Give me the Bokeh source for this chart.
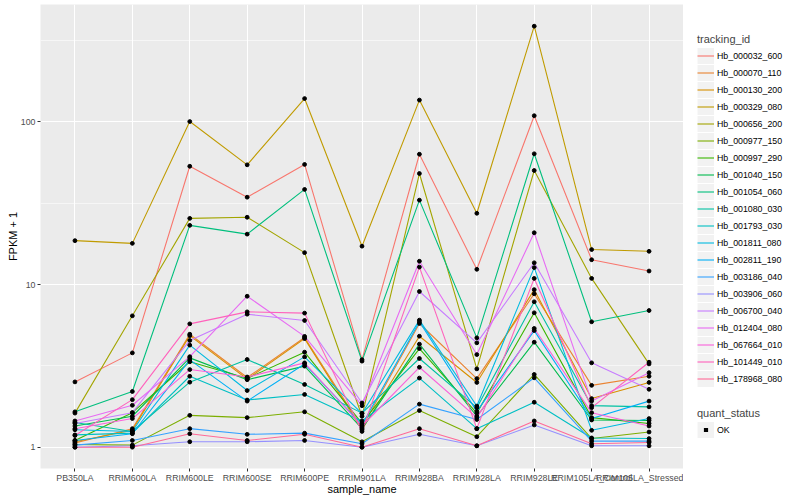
import math
from bokeh.plotting import figure
from bokeh.layouts import row
from bokeh.models import (FactorRange, Range1d, FixedTicker, PrintfTickFormatter,
                          Legend, LegendItem, ColumnDataSource)
from bokeh.embed import file_html
from bokeh.resources import INLINE

samples = ["PB350LA", "RRIM600LA", "RRIM600LE", "RRIM600SE", "RRIM600PE", "RRIM901LA",
           "RRIM928BA", "RRIM928LA", "RRIM928LE", "RRIM105LA_Control", "RRIM105LA_Stressed"]

tracking_ids = ["Hb_000032_600", "Hb_000070_110", "Hb_000130_200", "Hb_000329_080",
                "Hb_000656_200", "Hb_000977_150", "Hb_000997_290", "Hb_001040_150",
                "Hb_001054_060", "Hb_001080_030", "Hb_001793_030", "Hb_001811_080",
                "Hb_002811_190", "Hb_003186_040", "Hb_003906_060", "Hb_006700_040",
                "Hb_012404_080", "Hb_067664_010", "Hb_101449_010", "Hb_178968_080"]

Hb_000032_600 = [2.52, 3.80, 53.3, 34.4, 54.7, 3.45, 63.2, 12.4, 109, 14.2, 12.1]
Hb_000070_110 = [1.06, 1.30, 4.95, 2.68, 4.72, 1.32, 5.76, 2.64, 8.77, 2.40, 2.73]
Hb_000130_200 = [1.08, 1.27, 4.85, 2.62, 4.65, 1.28, 4.81, 2.50, 9.30, 1.99, 2.50]
Hb_000329_080 = [18.6, 17.9, 100.4, 54.4, 139, 17.2, 136, 27.4, 387, 16.4, 16.0]
Hb_000656_200 = [1.62, 6.42, 25.5, 25.9, 15.7, 1.55, 48.1, 3.03, 50.2, 10.9, 3.25]
Hb_000977_150 = [1.04, 1.03, 1.57, 1.52, 1.65, 1.08, 1.68, 1.16, 2.80, 1.13, 1.24]
Hb_000997_290 = [1.10, 1.63, 3.35, 2.65, 3.84, 1.40, 4.04, 1.62, 6.70, 1.52, 1.40]
Hb_001040_150 = [1.35, 1.55, 3.54, 2.60, 3.15, 1.30, 4.30, 1.55, 4.42, 1.47, 1.46]
Hb_001054_060 = [1.65, 2.20, 23.1, 20.4, 38.4, 3.38, 33.0, 4.70, 63.6, 5.90, 6.92]
Hb_001080_030 = [1.42, 1.25, 2.51, 3.46, 2.43, 1.62, 3.51, 1.75, 7.83, 1.80, 1.77]
Hb_001793_030 = [1.19, 1.22, 2.73, 1.95, 2.11, 1.45, 2.66, 1.30, 1.89, 1.14, 1.13]
Hb_001811_080 = [1.28, 1.25, 4.24, 2.23, 3.59, 1.61, 6.04, 1.79, 12.7, 1.27, 1.50]
Hb_002811_190 = [1.10, 1.21, 3.44, 1.92, 3.25, 1.37, 5.90, 1.66, 5.21, 1.50, 1.92]
Hb_003186_040 = [1.03, 1.10, 1.30, 1.20, 1.22, 1.05, 1.84, 1.48, 2.67, 1.09, 1.09]
Hb_003906_060 = [1.00, 1.02, 1.08, 1.08, 1.10, 1.00, 1.20, 1.02, 1.37, 1.02, 1.02]
Hb_006700_040 = [1.40, 1.63, 4.53, 6.57, 6.01, 1.87, 9.06, 4.38, 13.6, 3.30, 2.27]
Hb_012404_080 = [1.45, 1.81, 3.60, 8.47, 4.80, 1.80, 13.9, 3.71, 20.8, 1.92, 2.87]
Hb_067664_010 = [1.30, 1.50, 3.00, 2.70, 3.30, 1.35, 3.10, 1.52, 5.37, 1.63, 1.35]
Hb_101449_010 = [1.18, 1.96, 5.73, 6.79, 6.67, 1.25, 12.8, 1.30, 10.9, 1.75, 3.33]
Hb_178968_080 = [1.00, 1.00, 1.21, 1.10, 1.20, 1.00, 1.30, 1.02, 1.45, 1.05, 1.07]

series = [Hb_000032_600, Hb_000070_110, Hb_000130_200, Hb_000329_080, Hb_000656_200,
          Hb_000977_150, Hb_000997_290, Hb_001040_150, Hb_001054_060, Hb_001080_030,
          Hb_001793_030, Hb_001811_080, Hb_002811_190, Hb_003186_040, Hb_003906_060,
          Hb_006700_040, Hb_012404_080, Hb_067664_010, Hb_101449_010, Hb_178968_080]

y_ticks = [1, 10, 100]
quant_status = "OK"


def hcl_hex(h, c=100.0, l=65.0):
    Xn, Yn, Zn = 95.047, 100.0, 108.883
    den = Xn + 15 * Yn + 3 * Zn
    un, vn = 4 * Xn / den, 9 * Yn / den
    U = c * math.cos(math.radians(h))
    V = c * math.sin(math.radians(h))
    Y = Yn * ((l + 16) / 116) ** 3
    u = U / (13 * l) + un
    v = V / (13 * l) + vn
    X = 9.0 * Y * u / (4 * v)
    Z = -X / 3 - 5 * Y + 3 * Y / v
    X, Y, Z = X / 100, Y / 100, Z / 100
    r = 3.240479 * X - 1.537150 * Y - 0.498535 * Z
    g = -0.969256 * X + 1.875992 * Y + 0.041556 * Z
    b = 0.055648 * X - 0.204043 * Y + 1.057311 * Z

    def gam(t):
        t = 12.92 * t if t <= 0.0031308 else 1.055 * t ** (1 / 2.4) - 0.055
        return int(round(min(max(t, 0), 1) * 255))
    return "#%02X%02X%02X" % (gam(r), gam(g), gam(b))


n = len(tracking_ids)
colors = [hcl_hex(15 + 360.0 / n * i) for i in range(n)]

FONT = "Liberation Sans"
px_per_decade = 162.7
FRAME_H = 464
FRAME_W = 643
top_log = 2.721
lo = 10 ** (top_log - FRAME_H / px_per_decade)
hi = 10 ** top_log

p = figure(frame_width=FRAME_W, frame_height=FRAME_H, output_backend="svg",
           toolbar_location=None,
           x_range=FactorRange(*samples, range_padding=0.1, range_padding_units="absolute"),
           y_axis_type="log", y_range=Range1d(lo, hi),
           min_border_left=40, min_border_right=0, min_border_top=4, min_border_bottom=0)
p.background_fill_color = "#EBEBEB"
p.border_fill_color = "white"
p.outline_line_color = None

p.xgrid.grid_line_color = "white"
p.xgrid.grid_line_width = 1.1
p.ygrid.grid_line_color = "white"
p.ygrid.grid_line_width = 1.1
p.ygrid.minor_grid_line_color = "white"
p.ygrid.minor_grid_line_width = 0.55

p.yaxis.ticker = FixedTicker(ticks=y_ticks,
                             minor_ticks=[10 ** (k + 0.5) for k in range(-1, 3)])
p.yaxis.formatter = PrintfTickFormatter(format="%d")

for ax in (p.xaxis[0], p.yaxis[0]):
    ax.axis_line_color = None
    ax.major_tick_line_color = "#333333"
    ax.major_tick_in = 0
    ax.major_tick_out = 3
    ax.minor_tick_line_color = None
    ax.major_label_text_font = FONT
    ax.major_label_text_font_size = "8.8px"
    ax.major_label_text_color = "#4D4D4D"
    ax.major_label_standoff = 1
    ax.axis_label_text_font = FONT
    ax.axis_label_text_font_size = "11px"
    ax.axis_label_text_font_style = "normal"
    ax.axis_label_text_color = "black"
p.xaxis.axis_label_standoff = -3
p.yaxis.axis_label_standoff = -1
p.xaxis.axis_label = "sample_name"
p.yaxis.axis_label = "FPKM + 1"

for vals, col in zip(series, colors):
    p.line(x=samples, y=vals, line_color=col, line_width=1.1)

xs, ys = [], []
for vals in series:
    xs.extend(samples)
    ys.extend(vals)
p.scatter(x="x", y="y", source=ColumnDataSource(dict(x=xs, y=ys)),
          marker="circle", size=3.8, color="black")

# legend panel (ggplot guide area)
LH = 484
lf = figure(width=112, height=LH, output_backend="svg", toolbar_location=None,
            x_range=Range1d(0, 1), y_range=Range1d(0, 1),
            x_axis_location=None, y_axis_location=None,
            min_border=0, min_border_left=0, min_border_right=0,
            min_border_top=0, min_border_bottom=0)
lf.xgrid.visible = False
lf.ygrid.visible = False
lf.outline_line_color = None
lf.background_fill_color = "white"
lf.border_fill_color = "white"

# grey key background (ggplot legend.key), drawn as a thick butt-capped line
key_bg = lf.line(x=[5, 6], y=[5, 6], line_color="#F2F2F2", line_width=16, line_cap="butt")

items = []
for name, col in zip(tracking_ids, colors):
    r = lf.line(x=[5, 6], y=[5, 6], line_color=col, line_width=1.1)
    items.append(LegendItem(label=name, renderers=[key_bg, r]))
pr = lf.scatter(x=[5], y=[5], marker="square", size=6.8, fill_color="black",
                line_color="#F2F2F2", line_width=2.6)

leg1 = Legend(items=items, title="tracking_id", location=(14, 68), orientation="vertical")
leg2 = Legend(items=[LegendItem(label=quant_status, renderers=[key_bg, pr])],
              title="quant_status", location=(14, 17), orientation="vertical")
for lg in (leg1, leg2):
    lg.padding = 0
    lg.margin = 0
    lg.spacing = 0
    lg.border_line_color = None
    lg.background_fill_alpha = 0
    lg.label_text_font = FONT
    lg.label_text_font_size = "8.8px"
    lg.label_text_color = "black"
    lg.label_height = 17
    lg.label_standoff = 3
    lg.title_text_font = FONT
    lg.title_text_font_size = "11px"
    lg.title_text_font_style = "normal"
    lg.title_standoff = 2
    lg.glyph_width = 17
    lg.glyph_height = 17
lf.add_layout(leg1)
lf.add_layout(leg2)

layout = row(p, lf)
open("out.html", "w").write(file_html(layout, INLINE))
